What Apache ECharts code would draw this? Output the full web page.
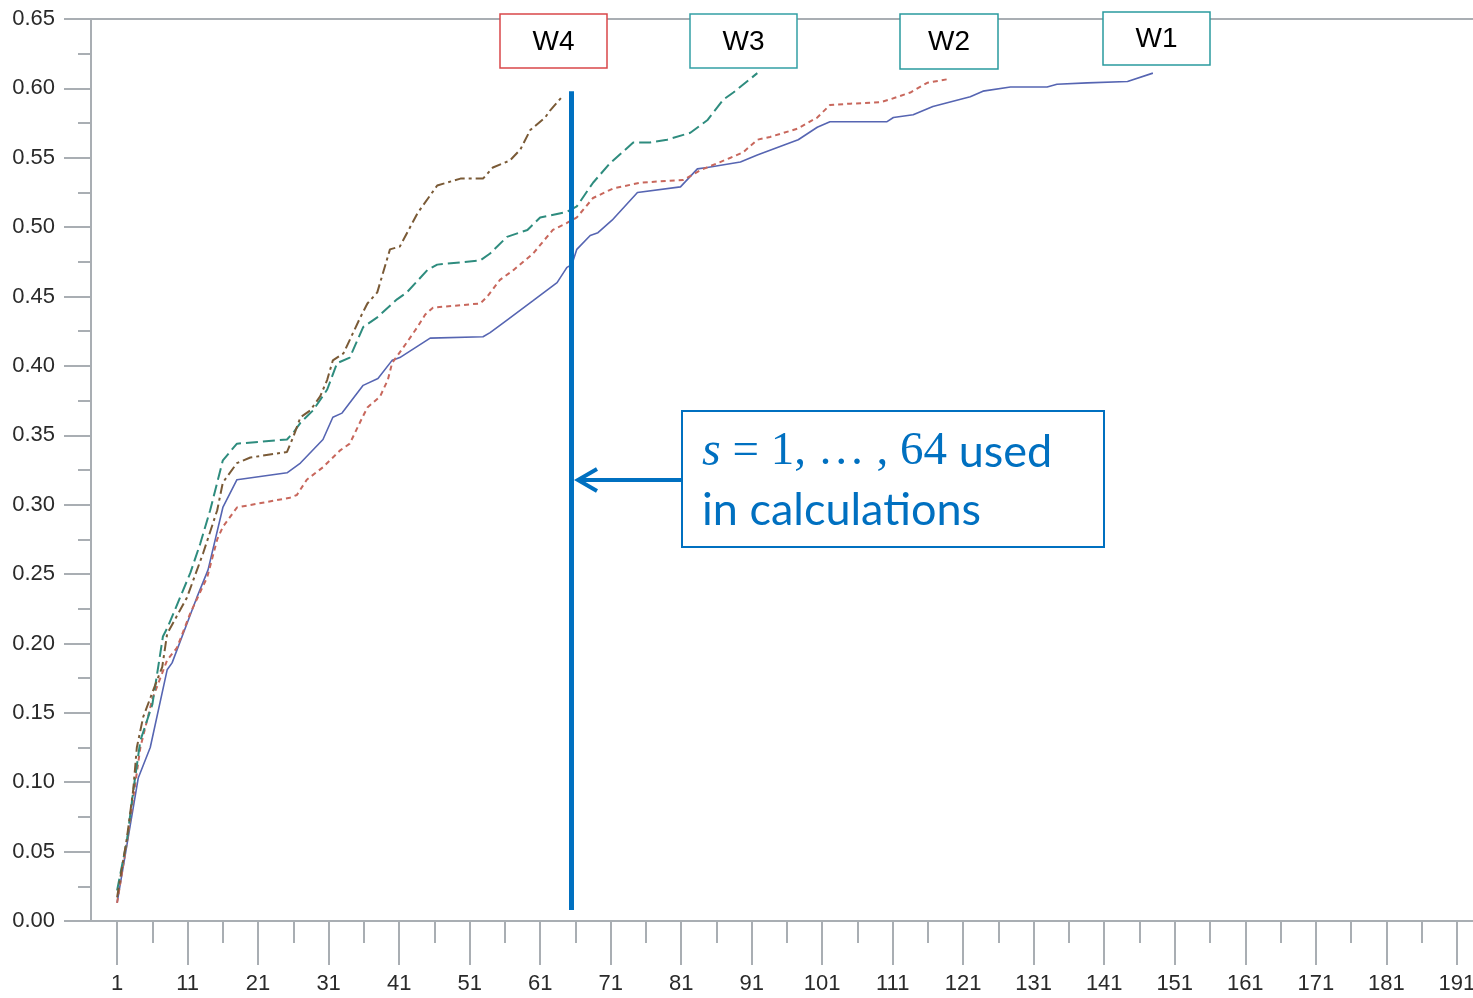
<!DOCTYPE html>
<html>
<head>
<meta charset="utf-8">
<script src="https://cdn.jsdelivr.net/npm/echarts@6/dist/echarts.min.js"></script>
<style>
    html, body { margin: 0; padding: 0; background: #fff; }
    #chart { width: 1473px; height: 998px; }
</style>
</head>
<body>
<div id="chart"></div>
<script>
// x tick labels (s)
var xTicks = [1, 11, 21, 31, 41, 51, 61, 71, 81, 91, 101, 111, 121, 131, 141, 151, 161, 171, 181, 191];
var xMinorTicks = [6, 16, 26, 36, 46, 56, 66, 76, 86, 96, 106, 116, 126, 136, 146, 156, 166, 176, 186];

// W1 - solid
var w1X = [1, 4, 5.7, 8.1, 8.8, 12.3, 13.9, 16, 18, 25.1, 27, 30.2, 31.6, 32.9, 35.9, 38, 40, 41.1, 45.4, 52.9, 53.9, 56.3, 60, 63.4, 64.8, 65.5, 66.2, 68.1, 69.2, 71.2, 74.8, 80.9, 83.3, 84.7, 89.4, 91.8, 95.5, 97.6, 100.3, 102.1, 110.2, 111.1, 113.9, 116.7, 122, 123.8, 127.7, 132.9, 134.3, 138.6, 144.3, 147.9];
var w1Y = [0.013, 0.103, 0.125, 0.181, 0.186, 0.233, 0.253, 0.298, 0.318, 0.323, 0.330, 0.347, 0.363, 0.366, 0.386, 0.391, 0.404, 0.406, 0.420, 0.421, 0.424, 0.433, 0.447, 0.460, 0.471, 0.473, 0.484, 0.494, 0.496, 0.505, 0.525, 0.529, 0.542, 0.543, 0.547, 0.552, 0.559, 0.563, 0.572, 0.576, 0.576, 0.579, 0.581, 0.587, 0.594, 0.598, 0.601, 0.601, 0.603, 0.604, 0.605, 0.611];

// W2 - short dash
var w2X = [1, 2.5, 4.3, 6, 8.1, 9.5, 11.4, 13.8, 15.2, 16, 18, 25.5, 26.5, 27.9, 30.2, 32.6, 34, 35.8, 36.5, 38.3, 39.4, 40, 42.1, 43.6, 44.7, 45.8, 52.5, 53.5, 55.3, 57.2, 60, 62.8, 64.8, 66.2, 68.5, 71.4, 75.2, 78, 81.3, 83.7, 88, 89.8, 91.8, 93.6, 97.5, 100.3, 102.1, 105, 109.2, 110.6, 113.5, 115.9, 119.2];
var w2Y = [0.013, 0.06, 0.125, 0.16, 0.188, 0.197, 0.222, 0.248, 0.275, 0.284, 0.298, 0.305, 0.307, 0.318, 0.327, 0.339, 0.344, 0.363, 0.370, 0.378, 0.390, 0.402, 0.417, 0.428, 0.437, 0.442, 0.445, 0.450, 0.462, 0.469, 0.481, 0.498, 0.503, 0.507, 0.521, 0.528, 0.532, 0.533, 0.534, 0.541, 0.550, 0.554, 0.563, 0.565, 0.571, 0.579, 0.588, 0.589, 0.590, 0.592, 0.597, 0.604, 0.607];

// W3 - long dash
var w3X = [1, 2.4, 3.3, 3.8, 4.3, 6, 7.5, 8.2, 11.4, 12.8, 14.2, 16, 18, 25.1, 26, 27, 28.8, 30.8, 32.2, 34, 35.9, 37.9, 40.7, 42.1, 45, 46.4, 52.5, 53.9, 56.3, 59.2, 61, 64.8, 66.2, 68.5, 70.9, 74.2, 76.6, 79, 82.3, 84.7, 87, 88.4, 91.8];
var w3Y = [0.022, 0.058, 0.094, 0.112, 0.13, 0.156, 0.205, 0.212, 0.251, 0.272, 0.296, 0.332, 0.344, 0.347, 0.352, 0.359, 0.368, 0.383, 0.402, 0.406, 0.428, 0.435, 0.448, 0.453, 0.469, 0.473, 0.476, 0.481, 0.493, 0.498, 0.507, 0.511, 0.515, 0.532, 0.546, 0.561, 0.561, 0.563, 0.568, 0.577, 0.592, 0.597, 0.611];

// W4 - dash dot
var w4X = [1, 2.4, 3.3, 3.8, 4.7, 6.7, 7.4, 8.1, 10.9, 13.2, 15.2, 16, 18, 19.9, 25.1, 26, 27, 28.4, 29.8, 30.8, 31.6, 33.1, 35.5, 36.5, 37.9, 39.7, 41.1, 43.6, 46.4, 49.7, 52.9, 54.3, 56.7, 58.2, 59.6, 61.7, 62.4, 64.3];
var w4Y = [0.017, 0.06, 0.095, 0.125, 0.147, 0.174, 0.183, 0.207, 0.233, 0.265, 0.296, 0.316, 0.330, 0.334, 0.338, 0.349, 0.363, 0.368, 0.378, 0.390, 0.404, 0.409, 0.435, 0.445, 0.453, 0.484, 0.486, 0.510, 0.530, 0.535, 0.535, 0.543, 0.548, 0.556, 0.570, 0.579, 0.584, 0.595];

// cut-off s used in calculations
var cutS = 65.4;
var cutRange = [0.008, 0.598];

function pairs(xs, ys) {
    var out = [];
    for (var i = 0; i < xs.length; i++) {
        out.push([xs[i], ys[i]]);
    }
    return out;
}

var axisGray = '#A9AEB3';
var labelColor = '#2A2A2A';
var blue = '#0070C0';

var charts = echarts.init(document.getElementById('chart'));

function legendBox(x, y, w, h, color, text) {
    return {
        type: 'group',
        children: [
            {type: 'rect', shape: {x: x, y: y, width: w, height: h}, style: {fill: '#fff', stroke: color, lineWidth: 1.5}, z: 10},
            {type: 'text', x: x + w / 2, y: y + h / 2 + 1, z: 11,
                style: {text: text, fill: '#000', fontSize: 28, fontFamily: 'Liberation Sans', align: 'center', verticalAlign: 'middle'}}
        ]
    };
}

var option = {
    animation: false,
    backgroundColor: '#fff',
    grid: {left: 91, right: 0, top: 19, bottom: 77, outerBoundsMode: 'none'},
    xAxis: [
        {
            type: 'value', position: 'bottom', min: -2.7, max: 193.3,
            axisLine: {onZero: false, lineStyle: {color: axisGray, width: 2}},
            axisTick: {customValues: xTicks, length: 44, lineStyle: {color: axisGray, width: 2}},
            axisLabel: {customValues: xTicks, margin: 52, color: labelColor, fontSize: 22, fontFamily: 'Liberation Sans'},
            splitLine: {show: false}
        },
        {
            type: 'value', position: 'bottom', min: -2.7, max: 193.3,
            axisLine: {show: false, onZero: false},
            axisTick: {customValues: xMinorTicks, length: 22, lineStyle: {color: axisGray, width: 2}},
            axisLabel: {show: false},
            splitLine: {show: false}
        },
        {
            type: 'value', position: 'top', min: -2.7, max: 193.3,
            axisLine: {onZero: false, lineStyle: {color: axisGray, width: 2}},
            axisTick: {show: false},
            axisLabel: {show: false},
            splitLine: {show: false}
        }
    ],
    yAxis: {
        type: 'value', min: 0, max: 0.65, interval: 0.05, position: 'left',
        axisLine: {show: true, onZero: false, lineStyle: {color: axisGray, width: 2}},
        axisTick: {show: true, length: 27, lineStyle: {color: axisGray, width: 2}},
        minorTick: {show: true, splitNumber: 2, length: 13, lineStyle: {color: axisGray, width: 2}},
        axisLabel: {
            margin: 36, color: labelColor, fontSize: 22, fontFamily: 'Liberation Sans',
            formatter: function (v) { return v.toFixed(2); }
        },
        splitLine: {show: false}
    },
    series: [
        {
            name: 'W1', type: 'line', data: pairs(w1X, w1Y), symbol: 'none',
            lineStyle: {color: '#5665B2', width: 1.6, type: 'solid'}
        },
        {
            name: 'W2', type: 'line', data: pairs(w2X, w2Y), symbol: 'none',
            lineStyle: {color: '#C8675C', width: 2, type: [5, 4]}
        },
        {
            name: 'W3', type: 'line', data: pairs(w3X, w3Y), symbol: 'none',
            lineStyle: {color: '#2E8C7E', width: 2, type: [12, 5]}
        },
        {
            name: 'W4', type: 'line', data: pairs(w4X, w4Y), symbol: 'none',
            lineStyle: {color: '#7A5A36', width: 2, type: [10, 4, 3, 4]},
            markLine: {
                silent: true, symbol: 'none', label: {show: false},
                lineStyle: {color: blue, width: 5, type: 'solid'},
                data: [[{coord: [cutS, cutRange[0]]}, {coord: [cutS, cutRange[1]]}]]
            }
        }
    ],
    graphic: [
        legendBox(500, 14, 107, 54, '#D9474A', 'W4'),
        legendBox(690, 14, 107, 54, '#33A0A5', 'W3'),
        legendBox(900, 14, 98, 55, '#2A9A9E', 'W2'),
        legendBox(1103, 12, 107, 53, '#2A9A9E', 'W1'),
        // arrow
        {type: 'line', shape: {x1: 682, y1: 480, x2: 579, y2: 480}, style: {stroke: blue, lineWidth: 4}, z: 10},
        {type: 'polyline', shape: {points: [[597, 469], [578, 480], [597, 491]]}, style: {stroke: blue, lineWidth: 4, fill: null}, z: 10},
        // note box
        {type: 'rect', shape: {x: 682, y: 411, width: 422, height: 136}, style: {fill: '#fff', stroke: blue, lineWidth: 2}, z: 10},
        {
            type: 'text', x: 702, y: 452, z: 11,
            style: {
                text: '{i|s}{m| = 1, … , 64 }{u|used}',
                verticalAlign: 'middle',
                rich: {
                    i: {fill: blue, fontSize: 48, fontFamily: 'Liberation Serif', fontStyle: 'italic'},
                    m: {fill: blue, fontSize: 47, fontFamily: 'Liberation Serif'},
                    u: {fill: blue, fontSize: 45, fontFamily: 'Lato'}
                }
            }
        },
        {
            type: 'text', x: 702, y: 510, z: 11,
            style: {text: 'in calculations', fill: blue, fontSize: 45, fontFamily: 'Lato', verticalAlign: 'middle'}
        }
    ]
};
charts.setOption(option);
</script>
</body>
</html>
